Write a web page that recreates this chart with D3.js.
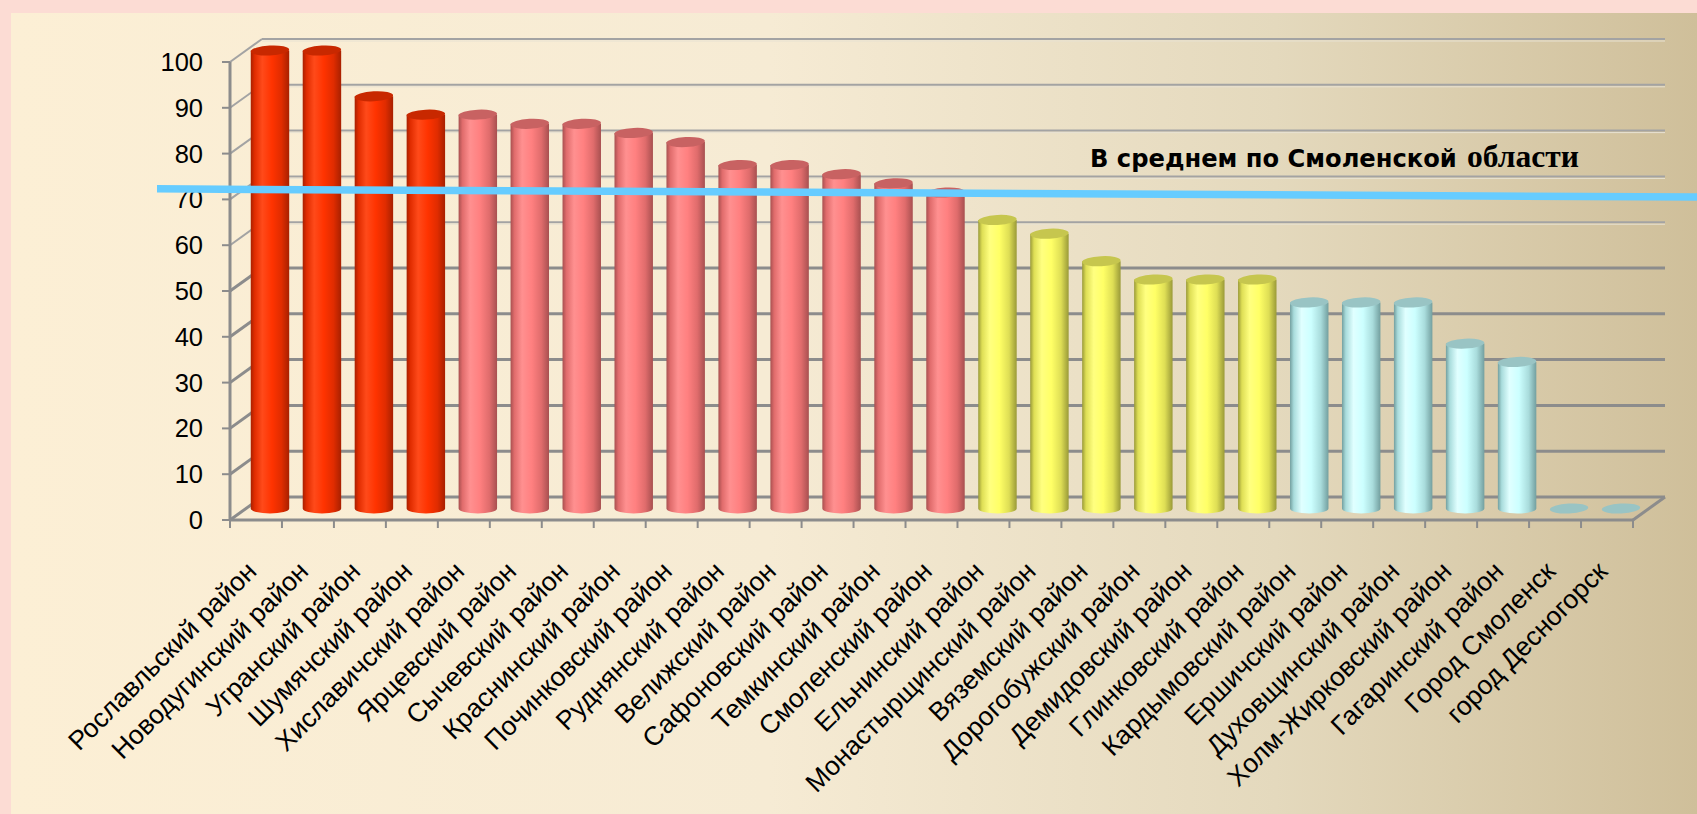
<!DOCTYPE html>
<html>
<head>
<meta charset="utf-8">
<script src="https://cdn.jsdelivr.net/npm/d3@7/dist/d3.min.js"></script>
<style>
  body { margin: 0; overflow: hidden; background: #fcdcd4; }
</style>
</head>
<body>
<svg id="chart" width="1697" height="814"></svg>
<script>
// data
const districts = [
  'Рославльский район', 'Новодугинский район', 'Угранский район', 'Шумячский район',
  'Хиславичский район', 'Ярцевский район', 'Сычевский район', 'Краснинский район',
  'Починковский район', 'Руднянский район', 'Велижский район', 'Сафоновский район',
  'Темкинский район', 'Смоленский район', 'Ельнинский район', 'Монастырщинский район',
  'Вяземский район', 'Дорогобужский район', 'Демидовский район', 'Глинковский район',
  'Кардымовский район', 'Ершичский район', 'Духовщинский район', 'Холм-Жирковский район',
  'Гагаринский район', 'Город Смоленск', 'город Десногорск'
];
const values = [100, 100, 90, 86, 86, 84, 84, 82, 80, 75, 75, 73, 71, 69,
                63, 60, 54, 50, 50, 50, 45, 45, 45, 36, 32, 0, 0];
const tiers = ['red', 'red', 'red', 'red',
               'pink', 'pink', 'pink', 'pink', 'pink', 'pink', 'pink', 'pink', 'pink', 'pink',
               'yellow', 'yellow', 'yellow', 'yellow', 'yellow', 'yellow',
               'cyan', 'cyan', 'cyan', 'cyan', 'cyan', 'cyan', 'cyan'];
const yTicks = [0, 10, 20, 30, 40, 50, 60, 70, 80, 90, 100];
const averageLine = [72.3, 70.5];   // drawn slightly sloped in the original
const averageLabel = ['В среднем по Смоленской', 'области'];

const W = 1697, H = 814;
const sansFont = '"Liberation Sans", Arial, sans-serif';
const svg = d3.select('#chart');

// 3d box look
const left = 230, right = 1633;
const depthX = 32, depthY = -23;
const x = d3.scaleBand().domain(districts).range([left, right]).paddingInner(0.26).paddingOuter(0.13);
const y = d3.scaleLinear().domain([0, 100]).range([520, 62]);

const palette = {
  red:    { edge: '#a82000', mid: '#e02c00', base: '#ff3300', light: '#ff4a1a', top: '#c82800' },
  pink:   { edge: '#a85050', mid: '#e06c6c', base: '#ff8080', light: '#ff9090', top: '#c86262' },
  yellow: { edge: '#9a9a38', mid: '#dede55', base: '#ffff66', light: '#ffff80', top: '#c6c64e' },
  cyan:   { edge: '#739f9f', mid: '#a9dcdc', base: '#ccffff', light: '#e0ffff', top: '#99c4c4' }
};

const defs = svg.append('defs');
const bg = defs.append('linearGradient').attr('id', 'panel').attr('x1', 0).attr('x2', 1).attr('y1', 0).attr('y2', 0);
[['0', '#fcefd5'], ['0.45', '#f6ebd4'], ['0.75', '#e4d9bd'], ['1', '#cfbf9a']]
  .forEach(s => bg.append('stop').attr('offset', s[0]).attr('stop-color', s[1]));

Object.entries(palette).forEach(([k, c]) => {
  const g = defs.append('linearGradient').attr('id', 'cyl-' + k)
    .attr('x1', 0).attr('x2', 1).attr('y1', 0).attr('y2', 0);
  [[0, c.edge], [0.1, c.mid], [0.3, c.light], [0.55, c.base], [0.8, c.mid], [1, c.edge]]
    .forEach(s => g.append('stop').attr('offset', s[0]).attr('stop-color', s[1]));
});

svg.append('rect').attr('width', W).attr('height', H).attr('fill', '#fcdcd4');
svg.append('rect').attr('x', 11).attr('y', 13).attr('width', W - 11).attr('height', H - 13).attr('fill', 'url(#panel)');

// walls: side diagonals and back grid lines
const grid = svg.append('g');
yTicks.forEach(t => {
  const yf = y(t), yb = y(t) + depthY;
  const upper = t >= 60;
  const stroke = upper ? '#a3a3a3' : '#8c8c8c';
  const sw = upper ? 2 : 3;
  grid.append('line').attr('x1', left).attr('y1', yf).attr('x2', left + depthX).attr('y2', yb)
    .attr('stroke', stroke).attr('stroke-width', sw);
  grid.append('line').attr('x1', left + depthX).attr('y1', yb).attr('x2', right + depthX).attr('y2', yb)
    .attr('stroke', stroke).attr('stroke-width', sw);
  if (upper) {
    grid.append('line').attr('x1', left + depthX).attr('y1', yb + 2).attr('x2', right + depthX).attr('y2', yb + 2)
      .attr('stroke', '#e8e2d2').attr('stroke-width', 1);
  }
});

// floor and axes
const axisColor = '#8c8c8c';
svg.append('line').attr('x1', left).attr('y1', y(0)).attr('x2', right).attr('y2', y(0))
  .attr('stroke', axisColor).attr('stroke-width', 3);
svg.append('line').attr('x1', right).attr('y1', y(0)).attr('x2', right + depthX).attr('y2', y(0) + depthY)
  .attr('stroke', axisColor).attr('stroke-width', 3);
svg.append('line').attr('x1', left).attr('y1', y(0)).attr('x2', left).attr('y2', y(100))
  .attr('stroke', axisColor).attr('stroke-width', 3);

// y ticks
const yAxis = svg.append('g');
yTicks.forEach(t => {
  yAxis.append('line').attr('x1', left - 8).attr('x2', left).attr('y1', y(t)).attr('y2', y(t))
    .attr('stroke', axisColor).attr('stroke-width', 2);
  yAxis.append('text').attr('x', 203).attr('y', y(t)).attr('text-anchor', 'end')
    .attr('dominant-baseline', 'central').attr('font-family', sansFont)
    .attr('font-size', 25.5).attr('fill', '#000').text(t);
});

// x ticks between categories
const step = x.step();
d3.range(districts.length + 1).forEach(i => {
  const tx = left + i * step;
  svg.append('line').attr('x1', tx).attr('x2', tx).attr('y1', y(0)).attr('y2', y(0) + 8)
    .attr('stroke', axisColor).attr('stroke-width', 2);
});

// category labels
svg.append('g').selectAll('text').data(districts).join('text')
  .attr('transform', d => `translate(${x(d) + x.bandwidth() / 2 + 2},573) rotate(-45)`)
  .attr('text-anchor', 'end')
  .attr('font-family', sansFont)
  .attr('font-size', 26.5)
  .attr('fill', '#000')
  .text(d => d);

// cylinders
const bw = x.bandwidth();
const ry = 5;
const bars = svg.append('g');
districts.forEach((d, i) => {
  const v = values[i];
  const c = palette[tiers[i]];
  const x0 = x(d) + 14, x1 = x0 + bw;
  const yb = y(0) + depthY / 2;
  const yt = y(v) + depthY / 2;
  if (v > 0) {
    bars.append('path')
      .attr('d', `M${x0},${yt} L${x0},${yb} A${bw / 2},${ry} 0 0 0 ${x1},${yb} L${x1},${yt} Z`)
      .attr('fill', `url(#cyl-${tiers[i]})`);
  }
  bars.append('ellipse').attr('cx', (x0 + x1) / 2).attr('cy', yt)
    .attr('rx', bw / 2).attr('ry', ry)
    .attr('fill', c.top)
    .attr('transform', `rotate(-3,${(x0 + x1) / 2},${yt})`);
});

// average line
svg.append('line')
  .attr('x1', left - 73).attr('y1', y(averageLine[0]))
  .attr('x2', W).attr('y2', y(averageLine[1]))
  .attr('stroke', '#66ccff').attr('stroke-width', 7.5);

// label: sans part then serif part, fitted to the original widths
const sansPart = svg.append('text').attr('x', 1090).attr('y', 167).attr('fill', '#000')
  .attr('font-weight', 'bold').attr('font-family', '"DejaVu Sans", sans-serif')
  .attr('font-size', 22).text(averageLabel[0]);
const sW = sansPart.node().getComputedTextLength();
sansPart.attr('font-size', 22 * 367 / sW);
const serifPart = svg.append('text').attr('x', 1467).attr('y', 167).attr('fill', '#000')
  .attr('font-weight', 'bold').attr('font-family', '"Liberation Serif", "DejaVu Serif", serif')
  .attr('font-size', 30).text(averageLabel[1]);
const fW = serifPart.node().getComputedTextLength();
serifPart.attr('font-size', 30 * 112 / fW);
</script>
</body>
</html>
